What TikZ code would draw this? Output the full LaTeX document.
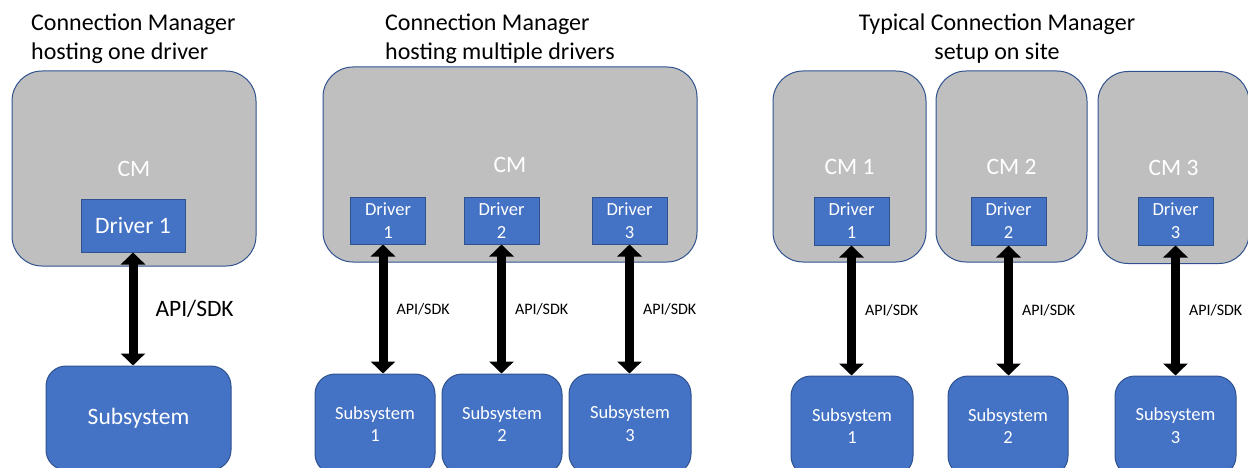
\documentclass[tikz,border=0pt]{standalone}
\usepackage{fontspec}
\setmainfont{Carlito}
\usepackage{xcolor}
\usepackage{tikz}
\usetikzlibrary{arrows.meta}

\definecolor{cmgray}{HTML}{BFBFBF}
\definecolor{drvblue}{HTML}{4472C4}
\definecolor{edgeblue}{HTML}{2F528F}
\newcommand{\titlefont}{\fontsize{24}{28.5}\selectfont}
\newcommand{\bigfont}{\fontsize{23.5}{28}\selectfont}
\newcommand{\smallfont}{\fontsize{18.5}{22.8}\selectfont}
\newcommand{\apifont}{\fontsize{16}{19}\selectfont}

\begin{document}
\begin{tikzpicture}[x=1pt, y=-1pt,
    cmbox/.style={draw=edgeblue, line width=1pt, fill=cmgray, rounded corners=30pt, inner sep=0pt, text=white, font=\bigfont},
    drvbox/.style={draw=edgeblue, line width=1pt, fill=drvblue, inner sep=0pt, text=white, align=center, font=\smallfont},
    subbox/.style={draw=edgeblue, line width=1pt, fill=drvblue, rounded corners=20pt, inner sep=0pt, text=white, align=center, font=\smallfont},
    apiarrow/.style={line width=9pt, {Triangle[width=24pt,length=12pt]}-{Triangle[width=24pt,length=12pt]}},
    apilabel/.style={font=\apifont, inner sep=0pt},
    titlebox/.style={font=\titlefont, inner sep=0pt}]
        \useasboundingbox (0,0) rectangle (1248,468);

        % one driver
        \node [titlebox, anchor=base west, align=left] (titleA) at (31,59.2) {Connection Manager\\hosting one driver};
        \node [cmbox, minimum width=244pt, minimum height=195pt] (cmA) at (134,168.5) {CM};
        \node [drvbox, font=\bigfont, minimum width=104pt, minimum height=53pt] (drvA) at (133,225.5) {Driver 1};
        \node [subbox, font=\bigfont, minimum width=185pt, minimum height=104pt] (subA) at (138.5,418) {Subsystem};
        \draw [apiarrow] (drvA.south) -- (drvA.south |- subA.north) node [apilabel, font=\bigfont, midway, right=18pt] {API/SDK};

        % multiple drivers
        \node [titlebox, anchor=base west, align=left] (titleB) at (385,59.2) {Connection Manager\\hosting multiple drivers};
        \node [cmbox, minimum width=374pt, minimum height=195pt] (cmB) at (510,164.5) {CM};
        \node [drvbox, minimum width=75pt, minimum height=47pt] (drvB1) at (388,220.5) {Driver\\1};
        \node [drvbox, minimum width=75pt, minimum height=47pt] (drvB2) at (501.5,220.5) {Driver\\2};
        \node [drvbox, minimum width=75pt, minimum height=47pt] (drvB3) at (629.5,220.5) {Driver\\3};
        \node [subbox, minimum width=120pt, minimum height=100pt] (subB1) at (375,424) {Subsystem\\1};
        \node [subbox, minimum width=120pt, minimum height=100pt] (subB2) at (502,424) {Subsystem\\2};
        \node [subbox, minimum width=122pt, minimum height=100pt] (subB3) at (630,424) {Subsystem\\3};
        \draw [apiarrow] ([xshift=-5pt]drvB1.south) -- ([xshift=-5pt]drvB1.south |- subB1.north) node [apilabel, midway, right=9pt] {API/SDK};
        \draw [apiarrow] (drvB2.south) -- (drvB2.south |- subB2.north) node [apilabel, midway, right=9pt] {API/SDK};
        \draw [apiarrow] (drvB3.south) -- (drvB3.south |- subB3.north) node [apilabel, midway, right=9pt] {API/SDK};

        % site setup
        \node [titlebox, anchor=base, align=center] (titleC) at (997,59.2) {Typical Connection Manager\\setup on site};
        \node [cmbox, minimum width=153pt, minimum height=191pt] (cmC1) at (849.5,166.5) {CM 1};
        \node [cmbox, minimum width=151pt, minimum height=191pt] (cmC2) at (1011.5,166.5) {CM 2};
        \node [cmbox, minimum width=151pt, minimum height=192pt] (cmC3) at (1173.5,167.5) {CM 3};
        \node [drvbox, minimum width=75pt, minimum height=48pt] (drvC1) at (851.5,221) {Driver\\1};
        \node [drvbox, minimum width=75pt, minimum height=48pt] (drvC2) at (1008.5,221) {Driver\\2};
        \node [drvbox, minimum width=75pt, minimum height=48pt] (drvC3) at (1175.5,221) {Driver\\3};
        \node [subbox, minimum width=122pt, minimum height=100pt] (subC1) at (852,426) {Subsystem\\1};
        \node [subbox, minimum width=120pt, minimum height=100pt] (subC2) at (1008,426) {Subsystem\\2};
        \node [subbox, minimum width=121pt, minimum height=100pt] (subC3) at (1175.5,426) {Subsystem\\3};
        \draw [apiarrow] (drvC1.south) -- (drvC1.south |- subC1.north) node [apilabel, midway, right=9pt] {API/SDK};
        \draw [apiarrow] (drvC2.south) -- (drvC2.south |- subC2.north) node [apilabel, midway, right=9pt] {API/SDK};
        \draw [apiarrow] (drvC3.south) -- (drvC3.south |- subC3.north) node [apilabel, midway, right=9pt] {API/SDK};
\end{tikzpicture}
\end{document}
